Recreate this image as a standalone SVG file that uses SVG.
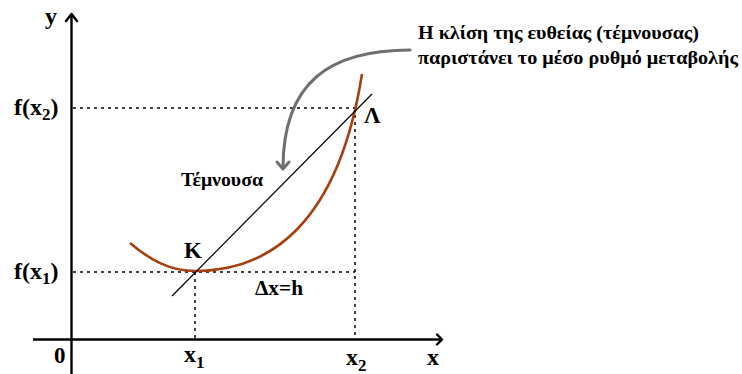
<svg xmlns="http://www.w3.org/2000/svg" width="742" height="374" viewBox="0 0 742 374">
<style>
.t{font-family:"Liberation Serif","Times New Roman","DejaVu Serif",serif;fill:#000;font-weight:bold}
.axis{stroke:#000;stroke-width:2.4;fill:none}
.head{stroke:#000;stroke-width:2.4;fill:none;stroke-linecap:round;stroke-linejoin:round}
.dot{stroke:#000;stroke-width:1.5;stroke-dasharray:3 4;fill:none}
.curve{stroke:#a83f0f;stroke-width:2.6;fill:none}
.sec{stroke:#000;stroke-width:1.2;fill:none}
.ann{stroke:#707070;stroke-width:3;fill:none;stroke-linecap:round;stroke-linejoin:round}
</style>
<rect width="742" height="374" fill="#fff"/>
<g id="axes">
<line class="axis" x1="71.5" y1="14" x2="71.5" y2="374"/>
<line class="axis" x1="33" y1="339.5" x2="442" y2="339.5"/>
<polyline class="head" points="66,21 71.5,14 77,21"/>
<polyline class="head" points="437,334.5 442,339.5 437,344.5"/>
<text class="t" x="45" y="24" font-size="24">y</text>
<text class="t" x="427" y="365" font-size="24">x</text>
<text class="t" x="54" y="363" font-size="23">0</text>
</g>
<g id="guides">
<line class="dot" x1="73" y1="108" x2="355" y2="108"/>
<line class="dot" x1="73" y1="272" x2="355" y2="272"/>
<line class="dot" x1="195" y1="272" x2="195" y2="338"/>
<line class="dot" x1="355" y1="108" x2="355" y2="338"/>
</g>
<g id="curve">
<path class="curve" d="M130,243 C150,260 170,271 195,271 C268,271 338,226 362,74"/>
</g>
<g id="secant">
<line class="sec" x1="172" y1="296" x2="372" y2="94"/>
<text class="t" x="181" y="186" font-size="19" font-weight="normal" textLength="82" lengthAdjust="spacingAndGlyphs">Τέμνουσα</text>
</g>
<g id="labels">
<text class="t" x="14" y="115" font-size="24">f(x<tspan font-size="17" dy="5">2</tspan><tspan dy="-5">)</tspan></text>
<text class="t" x="14" y="279" font-size="24">f(x<tspan font-size="17" dy="5">1</tspan><tspan dy="-5">)</tspan></text>
<text class="t" x="184" y="362" font-size="24">x<tspan font-size="17" dy="6">1</tspan></text>
<text class="t" x="346" y="365" font-size="24">x<tspan font-size="17" dy="6">2</tspan></text>
<text class="t" x="184" y="258" font-size="23">K</text>
<text class="t" x="364" y="123" font-size="23">Λ</text>
<text class="t" x="255" y="295" font-size="20" textLength="48" lengthAdjust="spacingAndGlyphs">Δx=h</text>
</g>
<g id="connectors">
<path class="ann" d="M410,50 C330,50 283,82 283,168"/>
<polyline class="ann" points="277,162 283,169 289,162"/>
</g>
<g id="note">
<text class="t" x="418" y="39" font-size="19" textLength="281" lengthAdjust="spacingAndGlyphs">Η κλίση της ευθείας (τέμνουσας)</text>
<text class="t" x="418" y="64" font-size="19" textLength="320" lengthAdjust="spacingAndGlyphs">παριστάνει το μέσο ρυθμό μεταβολής</text>
</g>
</svg>
